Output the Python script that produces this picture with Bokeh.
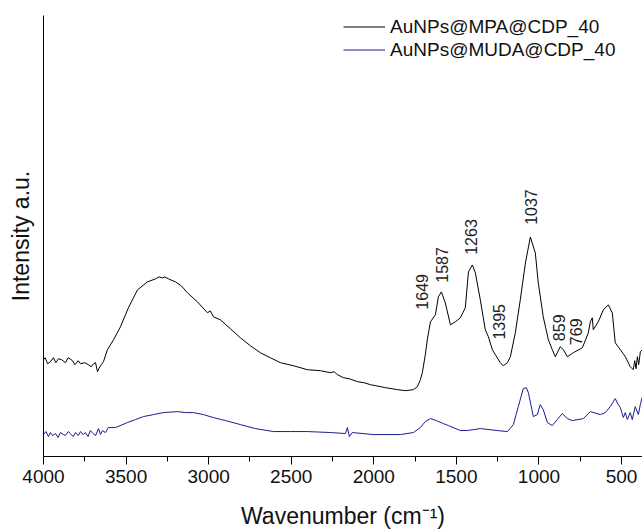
import math
from bokeh.plotting import figure
from bokeh.models import Range1d, FixedTicker, Legend, LegendItem, ColumnDataSource
from bokeh.core.properties import value
from bokeh.embed import file_html
from bokeh.resources import INLINE

# Wavenumber (cm-1) and intensity (a.u.)
mpa_wn = [4000, 3990, 3975, 3958, 3940, 3925, 3909, 3890, 3867, 3850, 3824, 3810, 3790, 3776,
          3750, 3728, 3710, 3697, 3685, 3673, 3665, 3655, 3637, 3613, 3576, 3534, 3486, 3431,
          3371, 3322, 3300, 3280, 3265, 3243, 3201, 3165, 3128, 3068, 3007, 2990, 2971, 2929,
          2868, 2808, 2747, 2687, 2626, 2565, 2487, 2402, 2323, 2263, 2240, 2220, 2184, 2150,
          2099, 2060, 2021, 1990, 1930, 1857, 1809, 1760, 1736, 1718, 1706, 1688, 1676, 1657,
          1627, 1609, 1591, 1567, 1536, 1506, 1476, 1446, 1427, 1403, 1385, 1355, 1337, 1325,
          1306, 1282, 1264, 1234, 1216, 1191, 1173, 1143, 1113, 1082, 1052, 1022, 1004, 974,
          943, 919, 901, 871, 852, 828, 792, 737, 701, 689, 677, 671, 641, 610, 580, 556, 538,
          507, 477, 447, 429, 420, 412, 404, 396, 386, 374]
mpa_int = [97, 99, 93, 95, 99, 94, 98, 97, 94, 99, 96, 92, 96, 93,
           94, 92, 90, 93, 94, 85, 88, 91, 95, 107, 117, 130, 149, 167,
           175, 178, 180, 179, 180, 178, 175, 171, 164, 155, 144, 146, 140, 137,
           128, 119, 111, 104, 99, 94, 91, 87, 86, 84, 85, 82, 79, 78,
           75, 74, 72, 71, 69, 67, 66, 67, 70, 77, 84, 102, 117, 135,
           142, 160, 165, 154, 132, 135, 139, 149, 185, 192, 184, 157, 139, 127,
           120, 107, 102, 94, 91, 94, 100, 124, 157, 194, 220, 204, 174, 140,
           117, 107, 100, 110, 107, 100, 104, 109, 124, 135, 139, 127, 135, 147, 152, 144, 114,
           107, 100, 90, 87, 96, 88, 100, 92, 105, 107]

muda_wn = [4000, 3985, 3970, 3958, 3945, 3927, 3912, 3897, 3880, 3867, 3850, 3837, 3820, 3806,
           3790, 3776, 3760, 3746, 3730, 3716, 3700, 3685, 3667, 3655, 3643, 3625, 3607,
           3564, 3492, 3443, 3395, 3334, 3274, 3189, 3140, 3092, 3032, 2971, 2898, 2808, 2717,
           2608, 2505, 2402, 2263, 2172, 2160, 2148, 2130, 2003, 1839, 1760, 1718, 1688, 1657,
           1621, 1579, 1548, 1476, 1433, 1355, 1252, 1191, 1155, 1125, 1095, 1076, 1064, 1034,
           1010, 992, 974, 949, 919, 889, 859, 828, 798, 731, 689, 628, 598, 568, 538, 520, 507,
           489, 477, 465, 447, 435, 417, 398, 386, 374]
muda_int = [22, 25, 20, 24, 21, 23, 19, 24, 22, 21, 25, 23, 20, 24,
            21, 25, 22, 24, 20, 26, 23, 21, 28, 22, 26, 24, 29,
            29, 34, 37, 40, 42, 44, 45, 44, 44, 42, 39, 36, 32, 28,
            25, 25, 25, 24, 23, 29, 20, 24, 22, 22, 24, 29, 35, 38,
            36, 33, 31, 26, 26, 28, 26, 25, 32, 50, 68, 69, 64, 40,
            42, 52, 47, 34, 31, 37, 43, 38, 36, 38, 45, 42, 44, 50, 58, 52, 49,
            39, 44, 37, 44, 37, 50, 42, 52, 60]

peak_labels = ["1649", "1587", "1263", "1395", "1037", "859", "769"]
peak_label_wn = [1706, 1585, 1409, 1240, 1046, 877, 774]
peak_label_int = [165, 192, 220, 135, 250, 129, 125]

x_ticks = [4000, 3500, 3000, 2500, 2000, 1500, 1000, 500]
x_minor = [3750, 3250, 2750, 2250, 1750, 1250, 750, 375]

series_names = ["AuNPs@MPA@CDP_40", "AuNPs@MUDA@CDP_40"]
FONT = "Liberation Sans"

p = figure(width=642, height=531, output_backend="svg", toolbar_location=None,
           x_range=Range1d(4000, 373), y_range=Range1d(0, 442),
           min_border_left=43, min_border_right=0, min_border_top=15, min_border_bottom=74)
p.title = None
p.background_fill_color = "white"
p.border_fill_color = "white"
p.outline_line_color = None
p.grid.visible = False

r1 = p.line(mpa_wn, mpa_int, line_color="black", line_width=1)
r2 = p.line(muda_wn, muda_int, line_color="#1c1c8f", line_width=1)

src = ColumnDataSource(dict(x=peak_label_wn, y=peak_label_int, t=peak_labels))
p.text(x="x", y="y", text="t", source=src, angle=math.pi / 2, text_align="center",
       text_baseline="middle", text_font=value(FONT), text_font_size="16px", text_color="#222222")

xa = p.xaxis[0]
xa.ticker = FixedTicker(ticks=x_ticks, minor_ticks=x_minor)
xa.axis_label = "Wavenumber (cm\u207b\u00b9)"
xa.axis_label_text_font = FONT
xa.axis_label_text_font_size = "23px"
xa.axis_label_text_font_style = "normal"
xa.axis_label_text_color = "#111111"
xa.axis_label_standoff = 17
xa.major_label_text_font = FONT
xa.major_label_text_font_size = "19px"
xa.major_label_text_color = "#111111"
xa.major_label_standoff = 5
xa.major_tick_in = 0
xa.major_tick_out = 8
xa.minor_tick_in = 0
xa.minor_tick_out = 5
xa.axis_line_color = "black"
xa.major_tick_line_color = "black"
xa.minor_tick_line_color = "black"

ya = p.yaxis[0]
ya.ticker = FixedTicker(ticks=[], minor_ticks=[])
ya.axis_label = "Intensity a.u."
ya.axis_label_text_font = FONT
ya.axis_label_text_font_size = "23px"
ya.axis_label_text_font_style = "normal"
ya.axis_label_text_color = "#111111"
ya.axis_label_standoff = 10
ya.major_tick_in = 0
ya.major_tick_out = 0
ya.minor_tick_in = 0
ya.minor_tick_out = 0
ya.major_label_text_font_size = "0px"
ya.axis_line_color = "black"

legend = Legend(items=[LegendItem(label=series_names[0], renderers=[r1]),
                       LegendItem(label=series_names[1], renderers=[r2])],
                location=(300, 395), padding=0, margin=0, spacing=0,
                glyph_width=42, glyph_height=23, label_height=23, label_standoff=5,
                label_text_font=FONT, label_text_font_size="19px", label_text_color="#111111",
                border_line_color=None, background_fill_alpha=0)
p.add_layout(legend)

open("out.html", "w").write(file_html(p, INLINE))
